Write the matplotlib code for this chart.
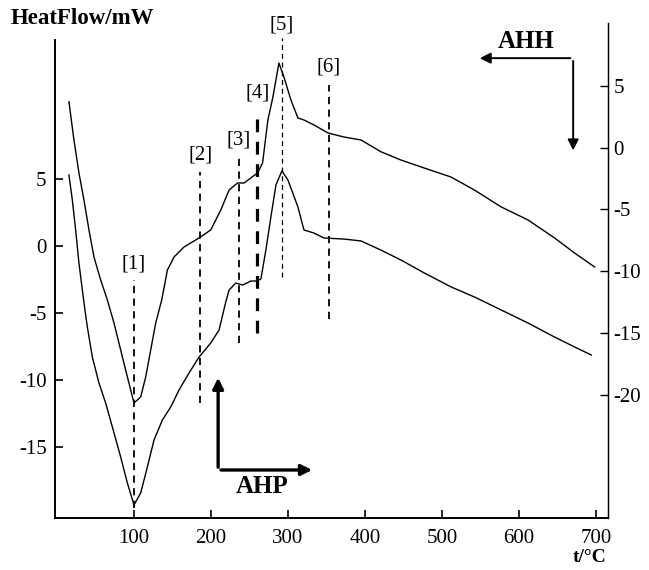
#!/usr/bin/env python3
import matplotlib
matplotlib.use('Agg')
import matplotlib.pyplot as plt
import numpy as np

plt.rcParams['font.family'] = ['Liberation Serif', 'DejaVu Serif']
plt.rcParams['axes.unicode_minus'] = False

# AHP curve (left axis), temperature in C, heat flow in mW
ahpT = [15.5, 19.9, 24.2, 28.5, 32.9, 36.3, 39.4, 45.9, 54.5, 63.2, 71.9, 82.7,
        91.4, 100.0, 108.7, 117.4, 126.0, 136.9, 147.7, 158.5, 171.5, 184.5,
        199.7, 210.5, 219.2, 223.5, 232.2, 241.0, 251.8, 259.6, 264.8, 271.3,
        277.8, 284.3, 292.1, 299.9, 312.9, 320.7, 333.7, 346.7, 372.7, 394.8,
        420.6, 446.6, 477.0, 511.8, 542.1, 576.9, 611.6, 646.2, 672.2, 693.9]
ahpQ = [5.31, 3.45, 1.21, -1.26, -3.27, -4.76, -6.03, -8.27, -10.21, -11.70,
        -13.49, -15.73, -17.67, -19.31, -18.41, -16.47, -14.46, -12.96, -12.00,
        -10.73, -9.46, -8.27, -7.22, -6.25, -4.16, -3.27, -2.75, -2.90, -2.60,
        -2.60, -2.45, -0.28, 2.18, 4.56, 5.61, 4.94, 2.92, 1.21, 0.98, 0.61,
        0.53, 0.39, -0.29, -1.03, -2.00, -3.04, -3.79, -4.76, -5.73, -6.78,
        -7.52, -8.12]

# AHH curve (right axis)
ahhT = [15.5, 22.0, 28.5, 35.0, 41.5, 48.0, 56.7, 65.4, 74.0, 82.7, 91.4, 100.0,
        108.7, 115.2, 121.7, 128.2, 136.0, 143.4, 152.0, 165.0, 184.5, 199.7,
        212.7, 223.5, 234.5, 243.0, 251.8, 260.5, 267.0, 273.9, 280.4, 288.2,
        294.7, 303.8, 312.9, 320.7, 333.7, 351.9, 372.7, 394.8, 420.6, 446.6,
        477.0, 511.8, 542.1, 576.9, 611.6, 646.2, 672.2, 698.2]
ahhQ = [3.71, 0.61, -2.06, -4.25, -6.67, -8.86, -10.72, -12.34, -14.20, -16.39,
        -18.57, -20.68, -20.19, -18.57, -16.39, -14.20, -12.34, -9.91, -8.86,
        -8.05, -7.32, -6.67, -5.06, -3.44, -2.87, -2.87, -2.46, -2.06, -1.25,
        2.23, 4.09, 6.84, 5.71, 3.85, 2.39, 2.23, 1.83, 1.18, 0.85, 0.61, -0.34,
        -1.01, -1.66, -2.39, -3.44, -4.81, -5.86, -7.32, -8.54, -9.67]

# event markers [1]..[6]
eventT = [100, 186, 236, 260, 292, 353]
eventLabels = ['[1]', '[2]', '[3]', '[4]', '[5]', '[6]']

xTicks = [100, 200, 300, 400, 500, 600, 700]
leftTicks = [5, 0, -5, -10, -15]
rightTicks = [5, 0, -5, -10, -15, -20]

figureWidth = 6.49
figureHeight = 5.70
fig = plt.figure(figsize=(figureWidth, figureHeight), dpi=100)

mainPanel = plt.axes([55/649, 52/570, 553/649, 495/570])
mainPanel.set_xlim(-2.6, 715.6)
mainPanel.set_ylim(-20.28, 16.65)
rightPanel = mainPanel.twinx()
rightPanel.set_ylim(-29.99, 10.08)

mainPanel.plot(ahpT, ahpQ, color='black', linewidth=1.0)
rightPanel.plot(ahhT, ahhQ, color='black', linewidth=1.0)

# dashed event lines: (bottom, top, label y) in left-axis units
lineSpans = [(-19.5, -2.5, -1.3), (-11.7, 5.5, 6.8), (-7.2, 6.6, 7.9),
             (-6.5, 9.9, 11.4), (-2.3, 15.5, 16.5), (-5.4, 12.0, 13.4)]
lineWidths = [1.3, 1.3, 1.3, 2.3, 0.9, 1.3]
for t, lab, span, lw in zip(eventT, eventLabels, lineSpans, lineWidths):
    mainPanel.plot([t, t], [span[0], span[1]], color='black', linewidth=lw,
                   linestyle=(0, (4, 3)))
    mainPanel.text(t, span[2], lab, ha='center', va='center', fontsize=15)

# spines and ticks
mainPanel.spines['top'].set_visible(False)
rightPanel.spines['top'].set_visible(False)
mainPanel.spines['left'].set_bounds(-20.28, 15.38)
for sp in ['left', 'bottom']:
    mainPanel.spines[sp].set_linewidth(1.4)
rightPanel.spines['right'].set_linewidth(1.0)
rightPanel.spines['left'].set_visible(False)
rightPanel.spines['bottom'].set_visible(False)

mainPanel.set_xticks(xTicks)
mainPanel.set_yticks(leftTicks)
rightPanel.set_yticks(rightTicks)
mainPanel.tick_params(direction='in', length=6, width=1.2, labelsize=15, pad=6)
mainPanel.tick_params(axis='x', pad=8)
rightPanel.tick_params(direction='in', length=6, width=1.0, labelsize=15, pad=4)

# arrows
arrowKw = dict(arrowstyle='-|>', color='black', mutation_scale=16)
mainPanel.annotate('', xy=(0.763, 0.929), xytext=(0.937, 0.929),
                   xycoords='axes fraction', arrowprops=dict(lw=1.4, **arrowKw))
mainPanel.annotate('', xy=(0.937, 0.737), xytext=(0.937, 0.929),
                   xycoords='axes fraction', arrowprops=dict(lw=1.4, **arrowKw))
mainPanel.annotate('', xy=(0.295, 0.289), xytext=(0.295, 0.097),
                   xycoords='axes fraction', arrowprops=dict(lw=2.4, **arrowKw))
mainPanel.annotate('', xy=(0.470, 0.097), xytext=(0.295, 0.097),
                   xycoords='axes fraction', arrowprops=dict(lw=2.4, **arrowKw))
mainPanel.text(0.852, 0.962, 'AHH', transform=mainPanel.transAxes, ha='center',
               va='center', fontsize=18, fontweight='bold')
mainPanel.text(0.374, 0.063, 'AHP', transform=mainPanel.transAxes, ha='center',
               va='center', fontsize=18, fontweight='bold')

fig.text(11/649, 1 - 19/570, 'HeatFlow/mW', ha='left', va='center',
         fontsize=16.5, fontweight='bold')
fig.text(590/649, 1 - 557/570, 't/°C', ha='center', va='center',
         fontsize=14, fontweight='bold')

plt.savefig('out.png', dpi=100)
